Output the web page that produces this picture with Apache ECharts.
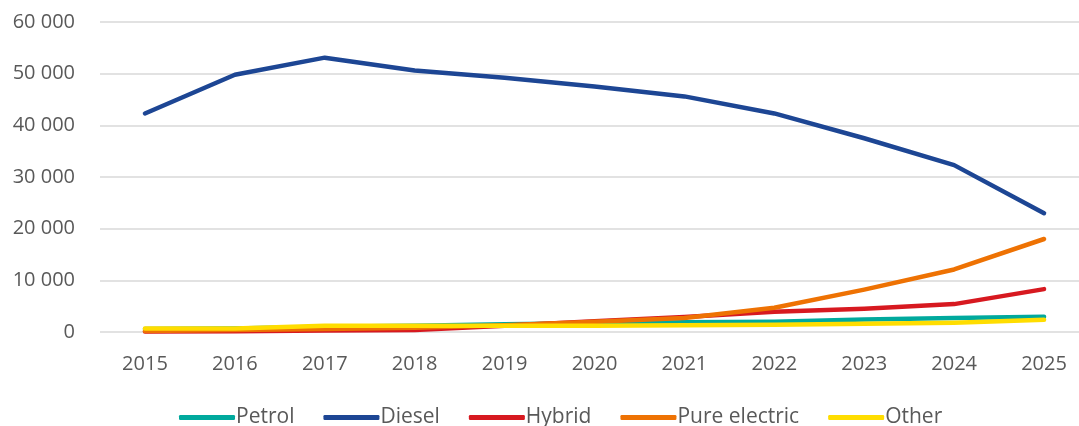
<!DOCTYPE html>
<html>
<head>
<meta charset="utf-8">
<script src="https://cdn.jsdelivr.net/npm/echarts@6/dist/echarts.min.js"></script>
<style>
html, body { margin: 0; padding: 0; background: #fff; }
#chart { width: 1079px; height: 426px; }
</style>
</head>
<body>
<div id="chart"></div>
<script>
// data
const years = ['2015', '2016', '2017', '2018', '2019', '2020', '2021', '2022', '2023', '2024', '2025'];
const petrol = [600, 700, 1000, 1200, 1500, 1700, 1900, 2000, 2400, 2700, 2950];
const diesel = [42300, 49800, 53100, 50600, 49200, 47500, 45600, 42300, 37500, 32300, 23000];
const hybrid = [100, 150, 300, 400, 1200, 2100, 2900, 3900, 4500, 5400, 8300];
const pureElectric = [200, 400, 600, 800, 1300, 2000, 2700, 4700, 8200, 12100, 18000];
const other = [700, 700, 1200, 1200, 1200, 1200, 1300, 1400, 1600, 1800, 2350];

const textColor = '#595959';
const font = 'Open Sans';

function fmt(v) {
  return String(v).replace(/\B(?=(\d{3})+(?!\d))/g, ' ');
}

function line(name, data, color) {
  return {
    name: name,
    type: 'line',
    data: data,
    symbol: 'none',
    lineStyle: { color: color, width: 4.5, cap: 'round', join: 'round' },
    itemStyle: { color: color }
  };
}

const chart = echarts.init(document.getElementById('chart'));
chart.setOption({
  animation: false,
  backgroundColor: '#fff',
  // plot area runs past the right edge, as in the cropped original
  grid: { left: 100, width: 989, top: 22, bottom: 94, containLabel: false, outerBoundsMode: 'none' },
  legend: {
    top: 402,
    left: 174,
    itemWidth: 56,
    itemHeight: 5,
    itemGap: 29,
    icon: 'roundRect',
    textStyle: { color: textColor, fontSize: 21, fontFamily: font, padding: [0, 0, 0, -4] },
    data: ['Petrol', 'Diesel', 'Hybrid', 'Pure electric', 'Other']
  },
  xAxis: {
    type: 'category',
    data: years,
    boundaryGap: true,
    axisLine: { show: false },
    axisTick: { show: false },
    axisLabel: { color: textColor, fontSize: 20, fontFamily: font, margin: 22 }
  },
  yAxis: {
    type: 'value',
    min: 0,
    max: 60000,
    interval: 10000,
    axisLine: { show: false },
    axisTick: { show: false },
    axisLabel: { color: textColor, fontSize: 20, fontFamily: font, margin: 25, formatter: fmt },
    splitLine: { lineStyle: { color: '#d9d9d9', width: 1.5 } }
  },
  series: [
    line('Petrol', petrol, '#00a99d'),
    line('Diesel', diesel, '#1d4694'),
    line('Hybrid', hybrid, '#d71920'),
    line('Pure electric', pureElectric, '#ee7203'),
    line('Other', other, '#ffdd00')
  ]
});
</script>
</body>
</html>
